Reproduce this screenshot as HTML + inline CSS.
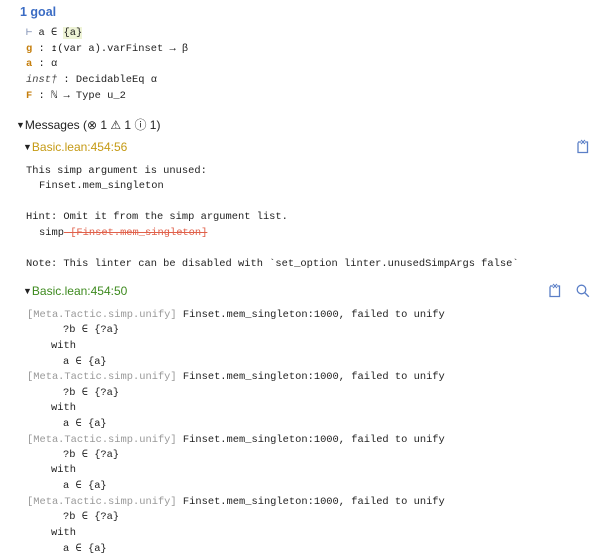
<!DOCTYPE html>
<html><head><meta charset="utf-8"><style>
html,body{margin:0;padding:0;background:#fff;width:603px;height:560px;overflow:hidden;position:relative}
.l{position:absolute;white-space:pre;font-family:"Liberation Mono","DejaVu Sans Mono",monospace;font-size:10.4px;line-height:14px;color:#222}
.s{position:absolute;white-space:pre;font-family:"Liberation Sans",sans-serif;font-size:12px;line-height:14px}
.t{font-size:9px;position:relative;top:-1px}
.o{color:#c57e0c;font-weight:bold}
.g{color:#999}
.i{font-style:italic;color:#444}
svg{position:absolute}
</style></head><body>
<div class="s" style="left:20px;top:5px;color:#3b6cc4;font-weight:bold;font-size:12.5px">1 goal</div>
<div class="l" style="left:26px;top:26px"><span style="color:#7a8ab0">⊢</span> a ∈ <span style="background:#eef3d6">{a}</span></div>
<div class="l" style="left:26px;top:42px"><span class="o">g</span> : ↥(var a).varFinset → β</div>
<div class="l" style="left:26px;top:57px"><span class="o">a</span> : α</div>
<div class="l" style="left:26px;top:73px"><span class="i">inst†</span> : DecidableEq α</div>
<div class="l" style="left:26px;top:89px"><span class="o">F</span> : ℕ → Type u_2</div>
<div class="s" style="left:16px;top:118px;color:#222"><span class="t">▼</span>Messages (⊗ 1 ⚠ 1 ⓘ 1)</div>
<div class="s" style="left:23px;top:140px;color:#c59a14"><span class="t" style="color:#222">▼</span>Basic.lean:454:56</div>
<div class="l" style="left:26px;top:164px">This simp argument is unused:</div>
<div class="l" style="left:39px;top:179px">Finset.mem_singleton</div>
<div class="l" style="left:26px;top:210px">Hint: Omit it from the simp argument list.</div>
<div class="l" style="left:39px;top:226px">simp<span style="color:#e0604a;text-decoration:line-through"> [Finset.mem_singleton]</span></div>
<div class="l" style="left:26px;top:257px">Note: This linter can be disabled with `set_option linter.unusedSimpArgs false`</div>
<div class="s" style="left:23px;top:284px;color:#3d8a1e"><span class="t" style="color:#222">▼</span>Basic.lean:454:50</div>
<svg style="left:575px;top:139px" width="16" height="15" viewBox="0 0 16 15"><path d="M3 3h3M10 3h2.5v10.5h-9.5v-10" fill="none" stroke="#5b7fc7" stroke-width="1.3"/><path d="M6 1l2 2-2 2M10 1l-2 2 2 2" fill="none" stroke="#5b7fc7" stroke-width="1.1"/></svg>
<svg style="left:547px;top:283px" width="16" height="15" viewBox="0 0 16 15"><path d="M3 3h3M10 3h2.5v10.5h-9.5v-10" fill="none" stroke="#5b7fc7" stroke-width="1.3"/><path d="M6 1l2 2-2 2M10 1l-2 2 2 2" fill="none" stroke="#5b7fc7" stroke-width="1.1"/></svg>
<svg style="left:575px;top:283px" width="16" height="15" viewBox="0 0 16 15"><circle cx="6.5" cy="6.5" r="4.3" fill="none" stroke="#5b7fc7" stroke-width="1.3"/><path d="M9.8 9.8l4 4" stroke="#5b7fc7" stroke-width="1.4"/></svg>
<div class="l" style="left:27px;top:308px"><span class="g">[Meta.Tactic.simp.unify]</span> Finset.mem_singleton:1000, failed to unify</div>
<div class="l" style="left:63px;top:323px">?b ∈ {?a}</div>
<div class="l" style="left:51px;top:339px">with</div>
<div class="l" style="left:63px;top:355px">a ∈ {a}</div>
<div class="l" style="left:27px;top:370px"><span class="g">[Meta.Tactic.simp.unify]</span> Finset.mem_singleton:1000, failed to unify</div>
<div class="l" style="left:63px;top:386px">?b ∈ {?a}</div>
<div class="l" style="left:51px;top:401px">with</div>
<div class="l" style="left:63px;top:417px">a ∈ {a}</div>
<div class="l" style="left:27px;top:433px"><span class="g">[Meta.Tactic.simp.unify]</span> Finset.mem_singleton:1000, failed to unify</div>
<div class="l" style="left:63px;top:448px">?b ∈ {?a}</div>
<div class="l" style="left:51px;top:463px">with</div>
<div class="l" style="left:63px;top:479px">a ∈ {a}</div>
<div class="l" style="left:27px;top:495px"><span class="g">[Meta.Tactic.simp.unify]</span> Finset.mem_singleton:1000, failed to unify</div>
<div class="l" style="left:63px;top:510px">?b ∈ {?a}</div>
<div class="l" style="left:51px;top:526px">with</div>
<div class="l" style="left:63px;top:542px">a ∈ {a}</div>
</body></html>
